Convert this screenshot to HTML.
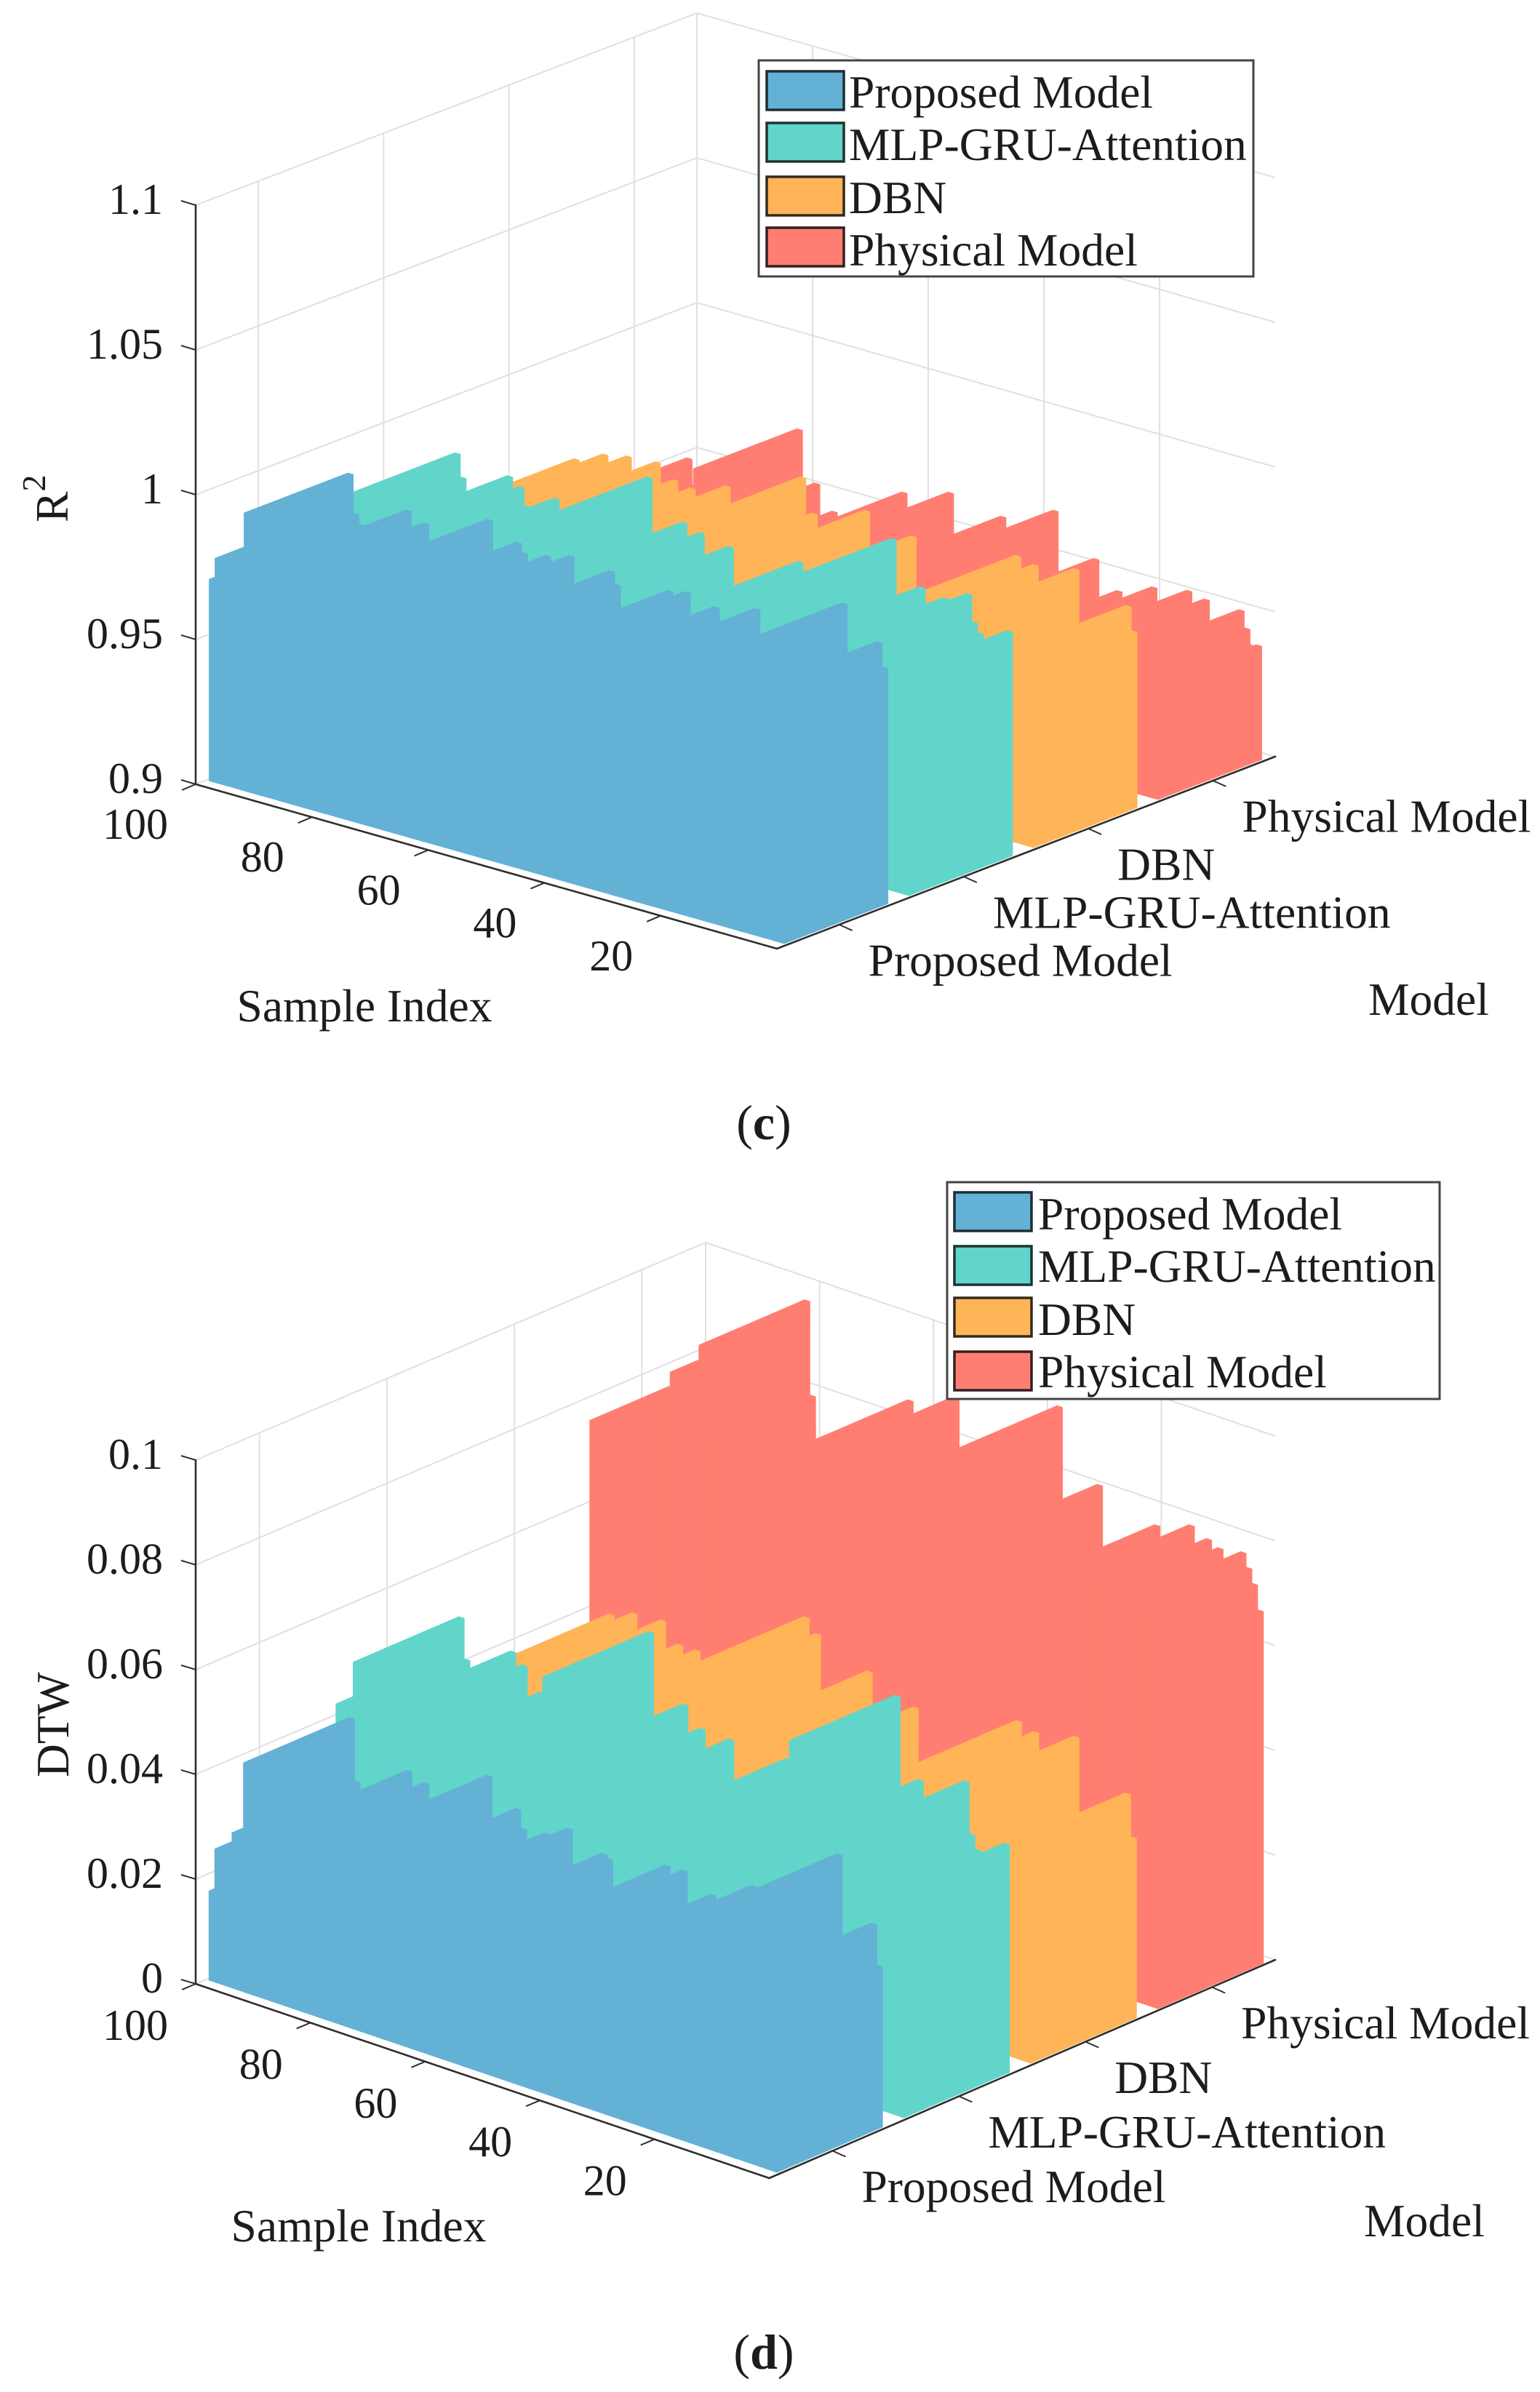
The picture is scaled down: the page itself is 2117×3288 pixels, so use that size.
<!DOCTYPE html>
<html lang="en">
<head>
<meta charset="utf-8">
<title>R2 and DTW per sample by model</title>
<style>
html,body{margin:0;padding:0;background:#fff;}
svg{display:block;}
text{font-family:"Liberation Serif","Times New Roman",serif;font-size:63.5px;fill:#1c1c1c;}
</style>
</head>
<body>
<svg id="figure" xmlns="http://www.w3.org/2000/svg" width="2117" height="3288" viewBox="0 0 2117 3288">
  <rect x="0" y="0" width="2117" height="3288" fill="#fff"/>

  <g id="panel-c">
    <g id="c-grid"></g>
    <g id="c-bars"></g>
    <g id="c-axes"></g>
    <text transform="translate(93,718) rotate(-90)">R<tspan font-size="46" dy="-31">2</tspan></text>
    <text x="501" y="1404" text-anchor="middle">Sample Index</text>
    <text x="1964" y="1395" text-anchor="middle">Model</text>
    <g>
      <rect x="1043" y="83" width="680" height="297" fill="#fff" stroke="#444" stroke-width="3"/>
      <rect x="1054" y="98" width="106" height="53" fill="#64b1d6" stroke="#1f2d33" stroke-width="3.5"/>
      <text x="1167" y="148">Proposed Model</text>
      <rect x="1054" y="169" width="106" height="53" fill="#62d5ca" stroke="#1f3330" stroke-width="3.5"/>
      <text x="1167" y="220">MLP-GRU-Attention</text>
      <rect x="1054" y="243" width="106" height="53" fill="#ffb458" stroke="#33291f" stroke-width="3.5"/>
      <text x="1167" y="293">DBN</text>
      <rect x="1054" y="313" width="106" height="53" fill="#ff7e71" stroke="#332020" stroke-width="3.5"/>
      <text x="1167" y="365">Physical Model</text>
    </g>
    <text x="1050" y="1566" text-anchor="middle" style="font-size:68px">(<tspan font-weight="bold">c</tspan>)</text>
  </g>

  <g id="panel-d">
    <g id="d-grid"></g>
    <g id="d-bars"></g>
    <g id="d-axes"></g>
    <text transform="translate(94,2443) rotate(-90)">DTW</text>
    <text x="493" y="3081" text-anchor="middle">Sample Index</text>
    <text x="1958" y="3074" text-anchor="middle">Model</text>
    <g>
      <rect x="1302" y="1625" width="677" height="298" fill="#fff" stroke="#444" stroke-width="3"/>
      <rect x="1312" y="1639" width="106" height="53" fill="#64b1d6" stroke="#1f2d33" stroke-width="3.5"/>
      <text x="1427" y="1690">Proposed Model</text>
      <rect x="1312" y="1713" width="106" height="53" fill="#62d5ca" stroke="#1f3330" stroke-width="3.5"/>
      <text x="1427" y="1762">MLP-GRU-Attention</text>
      <rect x="1312" y="1784" width="106" height="53" fill="#ffb458" stroke="#33291f" stroke-width="3.5"/>
      <text x="1427" y="1835">DBN</text>
      <rect x="1312" y="1858" width="106" height="53" fill="#ff7e71" stroke="#332020" stroke-width="3.5"/>
      <text x="1427" y="1907">Physical Model</text>
    </g>
    <text x="1050" y="3256" text-anchor="middle" style="font-size:68px">(<tspan font-weight="bold">d</tspan>)</text>
  </g>
</svg>

<script>
// Category and tick data
const modelNames = ["Proposed Model", "MLP-GRU-Attention", "DBN", "Physical Model"];
const sampleTicks = [100, 80, 60, 40, 20];
const r2Ticks = [0.9, 0.95, 1, 1.05, 1.1];
const r2TickLabels = ["0.9", "0.95", "1", "1.05", "1.1"];
const dtwTicks = [0, 0.02, 0.04, 0.06, 0.08, 0.1];
const dtwTickLabels = ["0", "0.02", "0.04", "0.06", "0.08", "0.1"];

// Panel (c) R2: sample index of each column whose top is legible, and its value
const r2ProposedSamples = [99,98,93,92,91,83,80,69,64,63,59,55,48,47,38,35,30,23,8,2,1];
const r2ProposedValues = [0.9698,0.9776,0.9961,0.9828,0.9796,0.9890,0.9863,0.9938,0.9887,0.9857,0.9870,0.9892,0.9880,0.9838,0.9868,0.9881,0.9858,0.9891,0.9995,0.9895,0.9814];
const r2MlpSamples = [96,95,87,85,84,79,63,57,54,49,37,21,16,12,8,7,6,1];
const r2MlpValues = [0.9848,0.9770,0.9820,0.9794,0.9733,0.9788,0.9952,0.9830,0.9811,0.9792,0.9808,0.9978,0.9840,0.9825,0.9862,0.9770,0.9738,0.9773];
const r2DbnSamples = [97,92,88,83,80,77,71,58,56,47,39,21,18,11,2,1];
const r2DbnValues = [0.9656,0.9701,0.9717,0.9725,0.9680,0.9669,0.9710,0.9815,0.9701,0.9762,0.9719,0.9754,0.9740,0.9765,0.9689,0.9607];
const r2PhysicalSamples = [99,90,80,77,74,62,54,45,36,29,25,19,13,10,4,3,2,1];
const r2PhysicalValues = [0.9482,0.9500,0.9690,0.9520,0.9440,0.9574,0.9619,0.9587,0.9659,0.9532,0.9444,0.9491,0.9513,0.9500,0.9497,0.9440,0.9387,0.9393];

// Panel (d) DTW
const dtwProposedSamples = [99,98,95,93,92,83,80,69,64,63,59,55,49,48,38,35,30,23,8,2,1];
const dtwProposedValues = [0.0171,0.0255,0.0297,0.0438,0.0321,0.0374,0.0362,0.0417,0.0372,0.0338,0.0344,0.0368,0.0342,0.0336,0.0360,0.0362,0.0334,0.0377,0.0493,0.0383,0.0306];
const dtwMlpSamples = [99,96,95,87,85,82,63,57,54,49,39,20,16,8,7,6,1];
const dtwMlpValues = [0.0424,0.0515,0.0438,0.0483,0.0464,0.0423,0.0609,0.0493,0.0458,0.0456,0.0456,0.0647,0.0501,0.0528,0.0431,0.0405,0.0435];
const dtwDbnSamples = [92,88,83,80,77,58,56,47,39,21,18,11,2,1];
const dtwDbnValues = [0.0431,0.0448,0.0453,0.0418,0.0418,0.0552,0.0527,0.0489,0.0450,0.0491,0.0481,0.0498,0.0423,0.0343];
const dtwPhysicalSamples = [99,85,80,79,62,54,36,29,19,13,10,8,4,3,2,1];
const dtwPhysicalValues = [0.0757,0.0901,0.0971,0.0793,0.0847,0.0883,0.0932,0.0808,0.0768,0.0790,0.0775,0.0765,0.0772,0.0746,0.0719,0.0672];

const SVG_NS = "http://www.w3.org/2000/svg";
const BAR_HALF = 0.4175;
const seriesFill = ["#64b1d6", "#62d5ca", "#ffb458", "#ff7e71"];
const seriesKey = ["proposed", "mlp", "dbn", "physical"];

function make(tag, attrs, parent, text) {
  const el = document.createElementNS(SVG_NS, tag);
  for (const k in attrs) el.setAttribute(k, attrs[k]);
  if (text !== undefined) el.textContent = text;
  parent.appendChild(el);
  return el;
}

function drawPanel(p) {
  const gridG = document.getElementById(p.id + "-grid");
  const barsG = document.getElementById(p.id + "-bars");
  const axesG = document.getElementById(p.id + "-axes");

  // Axis functions
  const zPx = v => (v - p.zMin) * p.zScale;
  const project = (s, m, v) => [
    p.front[0] + (m - 0.5) * p.modelDx + s * p.sampleDx,
    p.front[1] + (m - 0.5) * p.modelDy + s * p.sampleDy - zPx(v)
  ];
  const wallPoint = (a, b, t) => [a[0] + (b[0] - a[0]) * t, a[1] + (b[1] - a[1]) * t];
  const zTop = p.zTicks[p.zTicks.length - 1];

  // Back-wall grid
  p.zTicks.forEach((v, i) => {
    const h = zPx(v);
    const pts = [p.origin, p.back, p.right].map(c => c[0] + "," + (c[1] - h)).join(" ");
    const el = make("polyline", {points: pts, fill: "none", stroke: "#e0e0e0", "stroke-width": 2}, gridG);
    
    
  });
  modelNames.forEach((name, i) => {
    const q = wallPoint(p.origin, p.back, (i + 0.5) / 4);
    const el = make("line", {x1: q[0], y1: q[1], x2: q[0], y2: q[1] - zPx(zTop), stroke: "#e0e0e0", "stroke-width": 2}, gridG);
    
    
  });
  const backLine = make("line", {x1: p.back[0], y1: p.back[1], x2: p.back[0], y2: p.back[1] - zPx(zTop), stroke: "#e0e0e0", "stroke-width": 2}, gridG);
  
  
  sampleTicks.forEach(s => {
    if (s === 100) return;
    const q = wallPoint(p.right, p.back, s / 100);
    const el = make("line", {x1: q[0], y1: q[1], x2: q[0], y2: q[1] - zPx(zTop), stroke: "#e0e0e0", "stroke-width": 2}, gridG);
    
    
  });

  // Columns, back series first
  for (let i = 3; i >= 0; i--) {
    const m = i + 1, a = m - BAR_HALF, b = m + BAR_HALF;
    const g = make("g", {fill: seriesFill[i]}, barsG);
    
    
    const floorPts = [project(99.5, a, p.zMin), project(0.5, a, p.zMin), project(0.5, b, p.zMin), project(99.5, b, p.zMin)];
    const floor = make("polygon", {points: floorPts.map(q => q.join(",")).join(" ")}, g);
    
    
    const samples = p.series[i][0], values = p.series[i][1];
    samples.forEach((s, j) => {
      const v = values[j], s0 = s - 0.5, s1 = s + 0.5;
      const corners = [
        project(s1, a, p.zMin), project(s1, a, v), project(s1, b, v),
        project(s0, b, v), project(s0, b, p.zMin), project(s0, a, p.zMin)
      ];
      const bar = make("polygon", {points: corners.map(q => q.map(n => n.toFixed(1)).join(",")).join(" ")}, g);
      
      
    });
  }

  // Axis lines
  const axisStroke = {stroke: "#2e2e2e", "stroke-width": 2.6, "stroke-linecap": "round"};
  const zAxis = make("line", Object.assign({x1: p.origin[0], y1: p.origin[1], x2: p.origin[0], y2: p.origin[1] - zPx(zTop)}, axisStroke), axesG);
  
  
  const sAxis = make("line", Object.assign({x1: p.origin[0], y1: p.origin[1], x2: p.front[0], y2: p.front[1]}, axisStroke), axesG);
  
  
  const mAxis = make("line", Object.assign({x1: p.front[0], y1: p.front[1], x2: p.right[0], y2: p.right[1]}, axisStroke), axesG);
  
  

  // Y ticks
  p.zTicks.forEach((v, i) => {
    const y = p.origin[1] - zPx(v);
    const t = make("line", {x1: p.origin[0], y1: y, x2: p.origin[0] - 20, y2: y - 6, stroke: "#2e2e2e", "stroke-width": 2}, axesG);
    
    
    const l = make("text", {x: 224, y: y + 12, "text-anchor": "end", style: "font-size:60px"}, axesG, p.zLabels[i]);
    
    
  });

  // Sample ticks
  sampleTicks.forEach(s => {
    const q = wallPoint(p.front, p.origin, s / 100);
    const t = make("line", {x1: q[0], y1: q[1], x2: q[0] - 19, y2: q[1] + 8, stroke: "#2e2e2e", "stroke-width": 2}, axesG);
    
    
    const l = make("text", {x: q[0] - 38, y: q[1] + p.sampleLabelDy, "text-anchor": "end", style: "font-size:60px"}, axesG, String(s));
    
    
  });

  // Model ticks
  modelNames.forEach((name, i) => {
    const q = wallPoint(p.front, p.right, (i + 0.5) / 4);
    const t = make("line", {x1: q[0], y1: q[1], x2: q[0] + 18, y2: q[1] + 8, stroke: "#2e2e2e", "stroke-width": 2}, axesG);
    
    
    const l = make("text", {x: q[0] + 40, y: q[1] + 70.5}, axesG, name);
    
    
  });
}

drawPanel({
  id: "c", origin: [269, 1078], front: [1068, 1304], right: [1753, 1040], back: [958, 814],
  modelDx: 171.25, modelDy: -66, sampleDx: -7.99, sampleDy: -2.26,
  zMin: 0.9, zScale: 3980, zTicks: r2Ticks, zLabels: r2TickLabels, sampleLabelDy: 75,
  series: [[r2ProposedSamples, r2ProposedValues], [r2MlpSamples, r2MlpValues], [r2DbnSamples, r2DbnValues], [r2PhysicalSamples, r2PhysicalValues]]
});
drawPanel({
  id: "d", origin: [269, 2727], front: [1057.5, 2994], right: [1753, 2694], back: [970, 2428],
  modelDx: 174.5, modelDy: -75, sampleDx: -7.89, sampleDy: -2.67,
  zMin: 0, zScale: 7200, zTicks: dtwTicks, zLabels: dtwTickLabels, sampleLabelDy: 77,
  series: [[dtwProposedSamples, dtwProposedValues], [dtwMlpSamples, dtwMlpValues], [dtwDbnSamples, dtwDbnValues], [dtwPhysicalSamples, dtwPhysicalValues]]
});
</script>
</body>
</html>
